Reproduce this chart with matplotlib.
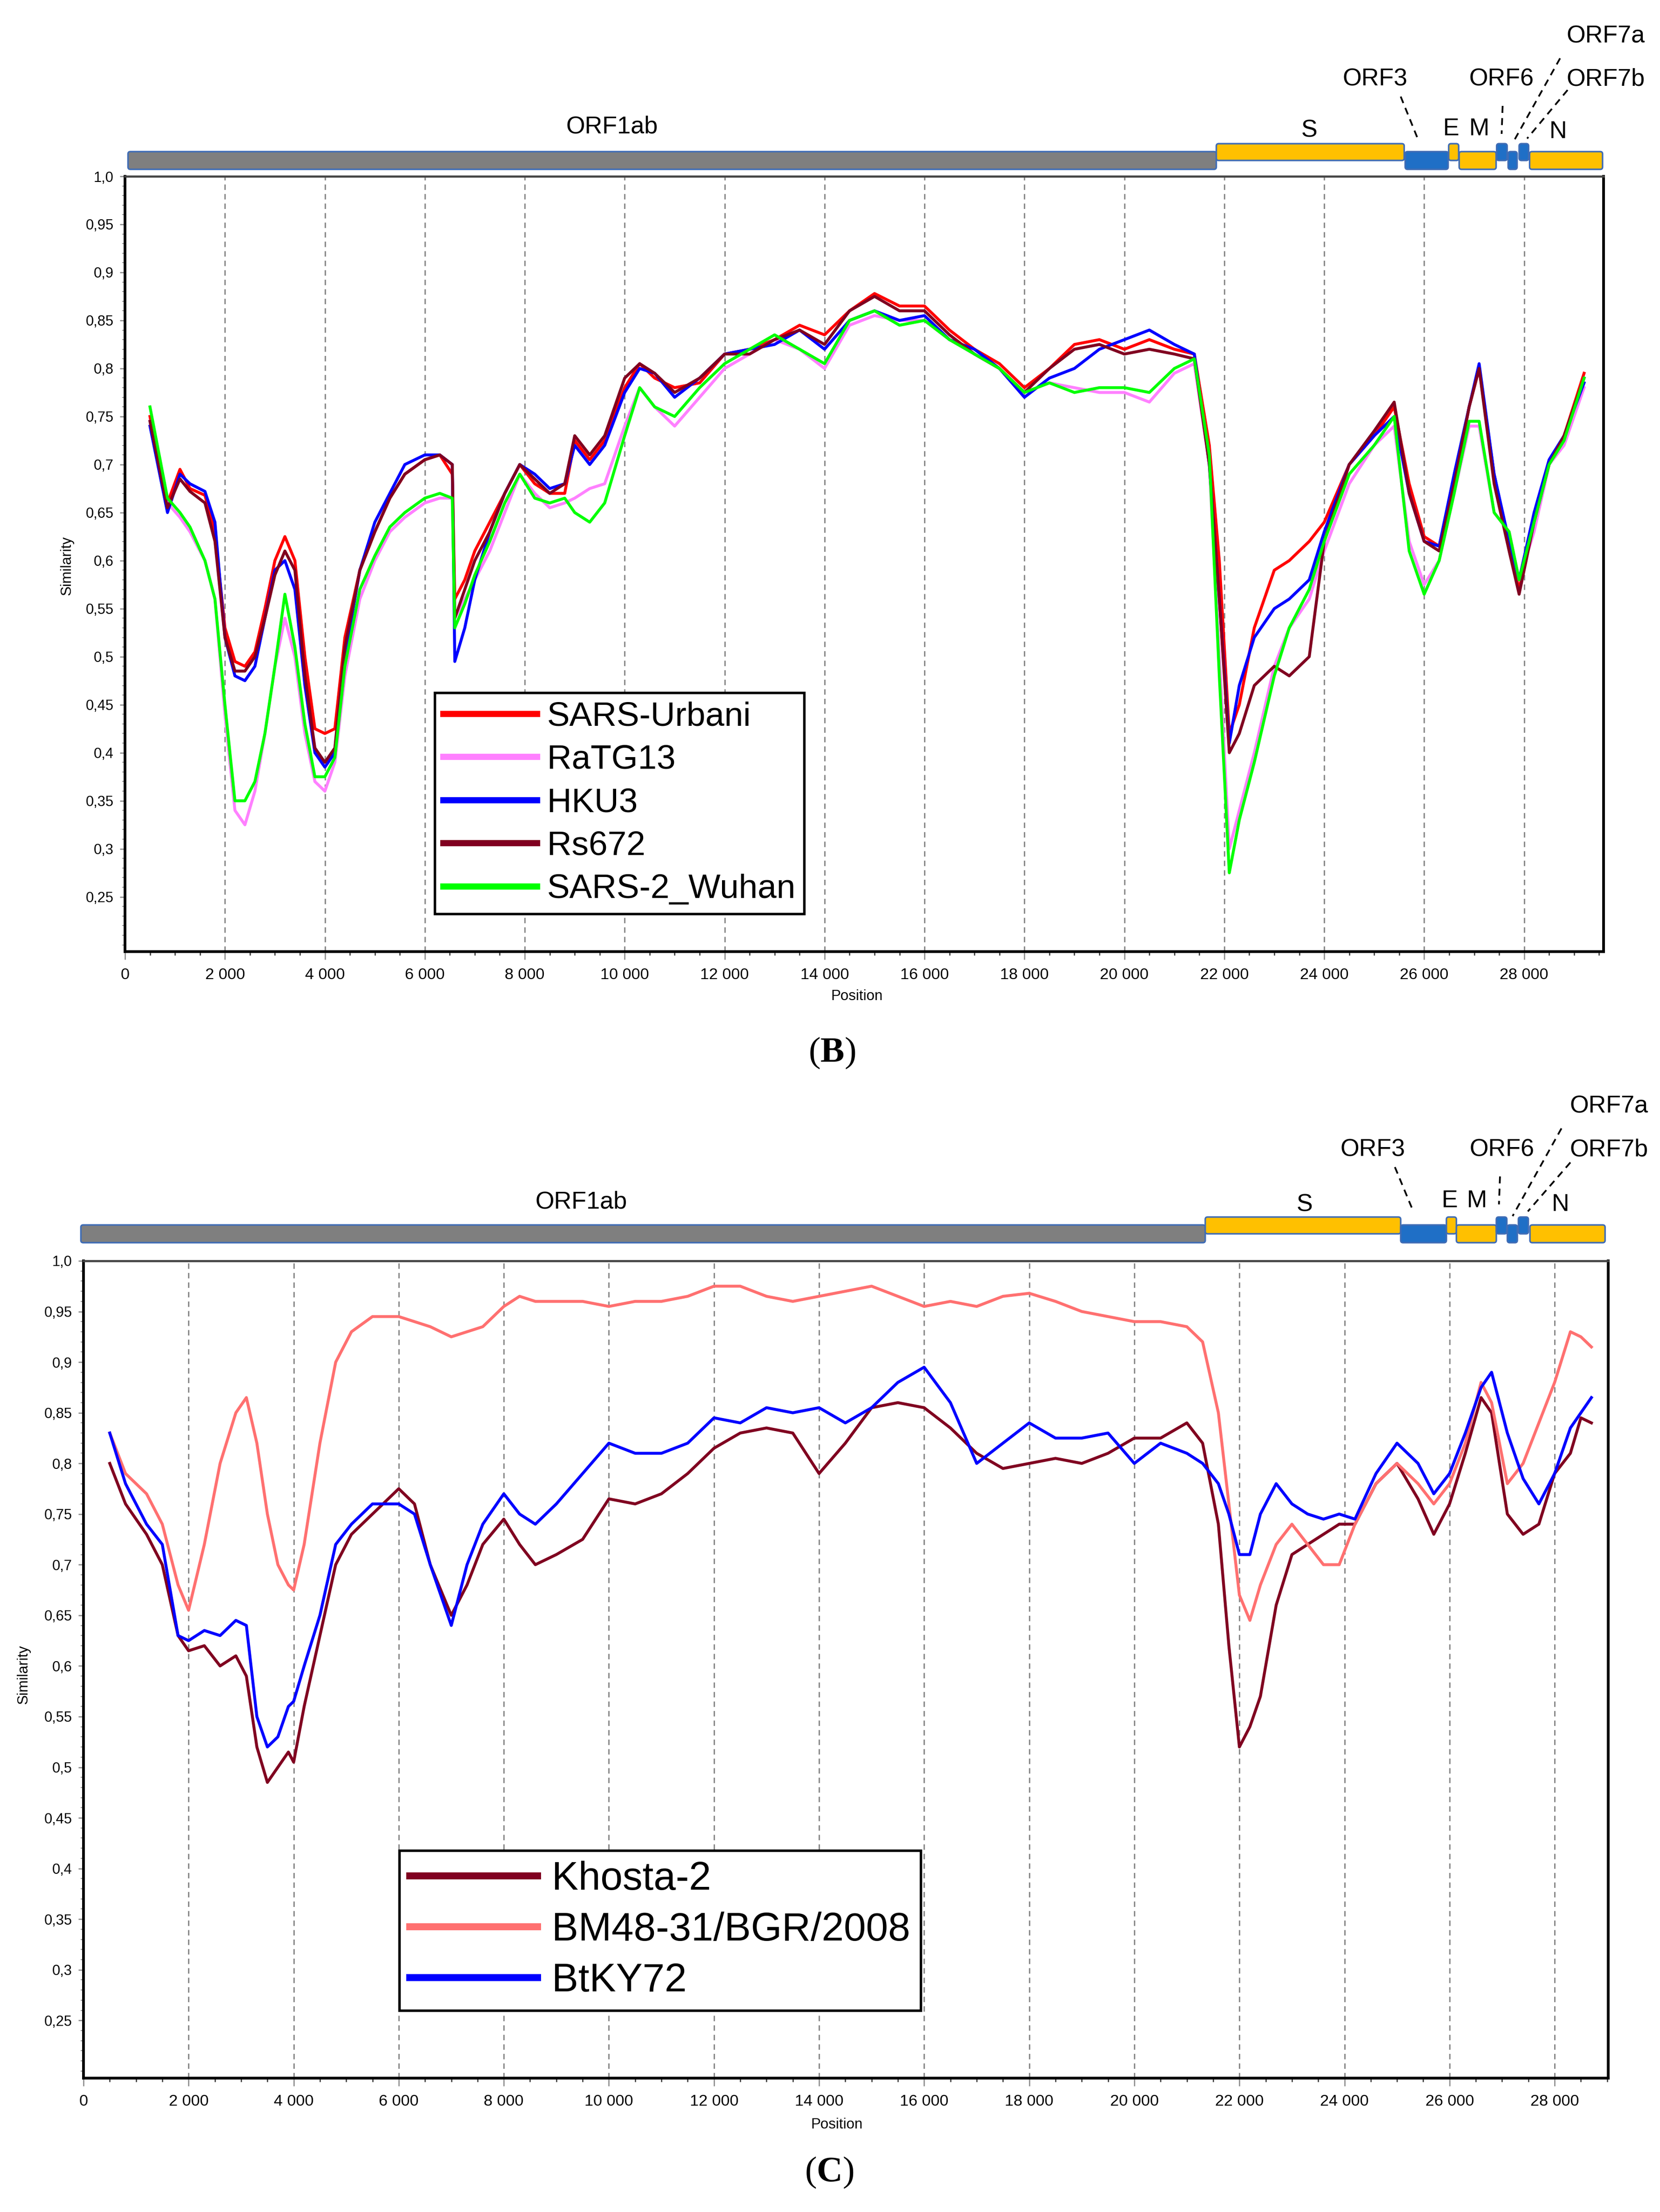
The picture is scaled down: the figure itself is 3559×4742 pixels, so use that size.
import matplotlib.pyplot as plt
from matplotlib.patches import FancyBboxPatch
from matplotlib.lines import Line2D

plt.rcParams['font.family'] = ['Liberation Sans', 'DejaVu Sans']
plt.rcParams['mathtext.fontset'] = 'custom'
plt.rcParams['mathtext.rm'] = 'Liberation Serif'
plt.rcParams['mathtext.bf'] = 'Liberation Serif:bold'

W, H, DPI = 3559, 4742, 300

# ---------------- panel B data ----------------
pos_b = [500, 850, 1100, 1300, 1600, 1800, 2000, 2200, 2400, 2600, 2800, 3000,
         3200, 3400, 3600, 3800, 4000, 4200, 4400, 4700, 5000, 5300, 5600, 6000,
         6300, 6550, 6600, 6800, 7000, 7300, 7600, 7900, 8200, 8500, 8800, 9000,
         9300, 9600, 10000, 10300, 10600, 11000, 11500, 12000, 12500, 13000,
         13500, 14000, 14500, 15000, 15500, 16000, 16500, 17000, 17500, 18000,
         18500, 19000, 19500, 20000, 20500, 21000, 21400, 21700, 21900, 22100,
         22300, 22600, 23000, 23300, 23700, 24000, 24500, 25000, 25400, 25700,
         26000, 26300, 26600, 26900, 27100, 27400, 27700, 27900, 28200, 28500,
         28800, 29200]

sars_urbani = [.750, .660, .695, .675, .668, .630, .530, .495, .490, .505, .550, .600,
               .625, .600, .500, .425, .420, .425, .520, .590, .630, .665, .690, .705,
               .710, .690, .560, .580, .610, .640, .670, .700, .680, .670, .670, .725,
               .705, .725, .780, .805, .790, .780, .785, .815, .820, .830,
               .845, .835, .860, .878, .865, .865, .840, .820, .805, .780,
               .800, .825, .830, .820, .830, .820, .815, .720, .600, .420,
               .450, .530, .590, .600, .620, .640, .700, .730, .760, .680,
               .625, .615, .680, .760, .800, .690, .615, .570, .640, .700,
               .730, .795]

ratg13 = [.745, .660, .645, .630, .600, .560, .440, .340, .325, .360, .420, .490,
          .540, .500, .420, .370, .360, .390, .480, .560, .600, .630, .645, .660,
          .665, .665, .540, .560, .580, .610, .650, .690, .670, .655, .660, .665,
          .675, .680, .740, .780, .760, .740, .770, .800, .815, .830,
          .820, .800, .845, .855, .850, .850, .830, .815, .800, .775,
          .785, .780, .775, .775, .765, .795, .805, .700, .500, .300,
          .340, .400, .490, .530, .560, .610, .680, .720, .740, .620,
          .575, .600, .670, .740, .740, .650, .630, .580, .630, .700,
          .720, .780]

hku3 = [.740, .650, .690, .680, .672, .640, .520, .480, .475, .490, .540, .590,
        .600, .570, .470, .400, .385, .400, .500, .590, .640, .670, .700, .710,
        .710, .700, .495, .530, .580, .630, .670, .700, .690, .675, .680, .720,
        .700, .720, .775, .800, .795, .770, .790, .815, .820, .825,
        .840, .820, .850, .860, .850, .855, .830, .820, .800, .770,
        .790, .800, .820, .830, .840, .825, .815, .700, .560, .410,
        .470, .520, .550, .560, .580, .630, .700, .730, .750, .670,
        .620, .615, .690, .760, .805, .690, .620, .580, .650, .705,
        .730, .785]

rs672 = [.745, .655, .685, .672, .660, .620, .520, .485, .485, .500, .540, .585,
         .610, .590, .480, .405, .390, .405, .510, .590, .630, .665, .690, .705,
         .710, .700, .540, .570, .600, .630, .670, .700, .685, .670, .680, .730,
         .710, .730, .790, .805, .795, .775, .790, .815, .815, .830,
         .840, .825, .860, .875, .860, .860, .835, .815, .800, .775,
         .800, .820, .825, .815, .820, .815, .810, .700, .560, .400,
         .420, .470, .490, .480, .500, .620, .700, .735, .765, .670,
         .620, .610, .680, .760, .800, .680, .610, .565, .640, .700,
         .730, .790]

sars2_wuhan = [.760, .665, .650, .635, .600, .560, .450, .350, .350, .370, .420, .490,
               .565, .510, .430, .375, .375, .395, .490, .570, .605, .635, .650, .665,
               .670, .665, .530, .555, .585, .620, .660, .690, .665, .660, .665, .650,
               .640, .660, .730, .780, .760, .750, .780, .805, .820, .835,
               .820, .805, .850, .860, .845, .850, .830, .815, .800, .775,
               .785, .775, .780, .780, .775, .800, .810, .710, .480, .275,
               .330, .390, .480, .530, .570, .620, .690, .720, .750, .610,
               .565, .600, .670, .745, .745, .650, .630, .580, .640, .700,
               .725, .790]

names_b = ["SARS-Urbani", "RaTG13", "HKU3", "Rs672", "SARS-2_Wuhan"]
series_b = [sars_urbani, ratg13, hku3, rs672, sars2_wuhan]
colors_b = ["#ff0000", "#ff80ff", "#0000ff", "#800020", "#00ff00"]

# ---------------- panel C data ----------------
pos_c = [500, 800, 1200, 1500, 1800, 2000, 2300, 2600, 2900, 3100, 3300, 3500,
         3700, 3900, 4000, 4200, 4500, 4800, 5100, 5500, 6000, 6300, 6600, 7000,
         7300, 7600, 8000, 8300, 8600, 9000, 9500, 10000, 10500, 11000, 11500,
         12000, 12500, 13000, 13500, 14000, 14500, 15000, 15500, 16000, 16500,
         17000, 17500, 18000, 18500, 19000, 19500, 20000, 20500, 21000, 21300,
         21600, 21800, 22000, 22200, 22400, 22700, 23000, 23300, 23600, 23900,
         24200, 24600, 25000, 25400, 25700, 26000, 26300, 26600, 26800, 27100,
         27400, 27700, 28000, 28300, 28500, 28700]

khosta2 = [.800, .760, .730, .700, .630, .615, .620, .600, .610, .590, .520, .485,
           .500, .515, .505, .560, .630, .700, .730, .750, .775, .760, .700, .650,
           .680, .720, .745, .720, .700, .710, .725, .765, .760, .770, .790,
           .815, .830, .835, .830, .790, .820, .855, .860, .855, .835,
           .810, .795, .800, .805, .800, .810, .825, .825, .840, .820,
           .740, .620, .520, .540, .570, .660, .710, .720, .730, .740,
           .740, .780, .800, .765, .730, .760, .810, .865, .850, .750,
           .730, .740, .790, .810, .845, .840]

bm48 = [.830, .790, .770, .740, .680, .655, .720, .800, .850, .865, .820, .750,
        .700, .680, .675, .720, .820, .900, .930, .945, .945, .940, .935, .925,
        .930, .935, .955, .965, .960, .960, .960, .955, .960, .960, .965,
        .975, .975, .965, .960, .965, .970, .975, .965, .955, .960,
        .955, .965, .968, .960, .950, .945, .940, .940, .935, .920,
        .850, .760, .670, .645, .680, .720, .740, .720, .700, .700,
        .740, .780, .800, .780, .760, .780, .820, .880, .860, .780,
        .800, .840, .880, .930, .925, .915]

btky72 = [.830, .780, .740, .720, .630, .625, .635, .630, .645, .640, .550, .520,
          .530, .560, .565, .600, .650, .720, .740, .760, .760, .750, .700, .640,
          .700, .740, .770, .750, .740, .760, .790, .820, .810, .810, .820,
          .845, .840, .855, .850, .855, .840, .855, .880, .895, .860,
          .800, .820, .840, .825, .825, .830, .800, .820, .810, .800,
          .780, .750, .710, .710, .750, .780, .760, .750, .745, .750,
          .745, .790, .820, .800, .770, .790, .830, .875, .890, .830,
          .785, .760, .790, .835, .850, .865]

names_c = ["Khosta-2", "BM48-31/BGR/2008", "BtKY72"]
series_c = [khosta2, bm48, btky72]
colors_c = ["#800020", "#ff7070", "#0000ff"]

# ---------------- axis ticks ----------------
xticks = list(range(0, 30000, 2000))
xtick_labels = [f"{v:,}".replace(",", " ") for v in xticks]
yticks = [0.25, 0.30, 0.35, 0.40, 0.45, 0.50, 0.55, 0.60, 0.65, 0.70, 0.75, 0.80,
          0.85, 0.90, 0.95, 1.00]
ytick_labels = ["0,25", "0,3", "0,35", "0,4", "0,45", "0,5", "0,55", "0,6", "0,65",
                "0,7", "0,75", "0,8", "0,85", "0,9", "0,95", "1,0"]

# ---------------- genome maps ----------------
gene_names = ["ORF1ab", "S", "ORF3", "E", "M", "ORF6", "ORF7a", "ORF7b", "N"]
gene_colors = ["#7f7f7f", "#ffc000", "#1f6fc6", "#ffc000", "#ffc000",
               "#1f6fc6", "#1f6fc6", "#1f6fc6", "#ffc000"]
gene_upper = [0, 1, 0, 1, 0, 1, 0, 1, 0]
gene_start_b = [60, 21840, 25620, 26490, 26700, 27450, 27680, 27900, 28110]
gene_end_b = [21840, 25600, 26480, 26690, 27440, 27660, 27860, 28090, 29570]
gene_start_c = [-50, 21350, 25070, 25940, 26130, 26890, 27100, 27310, 27530]
gene_end_c = [21350, 25070, 25940, 26130, 26890, 27090, 27290, 27500, 28960]


def draw_genes(gax, starts, ends, lift, px_per_bp, labels, leaders):
    lower = (15 + lift, 38)
    upper = (34 + lift, 36)
    for s, e, c, up in zip(starts, ends, gene_colors, gene_upper):
        y0, h = upper if up else lower
        r = 5 / px_per_bp
        box = FancyBboxPatch((s, y0), e - s, h,
                             boxstyle=f"round,pad=0,rounding_size={r}",
                             mutation_aspect=px_per_bp,
                             facecolor=c, edgecolor="#3f6cb5", lw=0.8,
                             clip_on=False)
        gax.add_patch(box)
    for txt, x, y in labels:
        gax.text(x, y + lift, txt, ha="center", va="center", fontsize=12.5,
                 clip_on=False)
    for x0, y0, x1, y1 in leaders:
        gax.plot([x0, x1], [y0 + lift, y1 + lift], color="black", lw=0.9,
                 linestyle=(0, (4, 3)), clip_on=False)


def style_axes(ax, xmax):
    ax.set_xlim(0, xmax)
    ax.set_ylim(0.193, 1.0)
    ax.set_xticks(xticks)
    ax.set_xticklabels(xtick_labels)
    ax.set_xticks(list(range(0, int(xmax), 500)), minor=True)
    ax.set_yticks(yticks)
    ax.set_yticklabels(ytick_labels)
    ax.set_yticks([v / 100 for v in range(20, 101)], minor=True)
    ax.tick_params(axis="x", which="major", length=4, width=0.6,
                   color="#888888", labelsize=8.2, pad=4.5)
    ax.tick_params(axis="x", which="minor", length=2, width=0.6, color="#333333")
    ax.tick_params(axis="y", which="major", length=2.6, width=0.6,
                   color="#888888", labelsize=7.4, pad=3.2)
    ax.tick_params(axis="y", which="minor", length=1.5, width=0.5, color="#999999")
    ax.xaxis.grid(True, which="major", color="#888888", lw=0.7,
                  linestyle=(0, (4, 3)))
    for side in ["left", "bottom", "right"]:
        ax.spines[side].set_linewidth(1.4)
        ax.spines[side].set_color("black")
    ax.spines["top"].set_linewidth(1.1)
    ax.spines["top"].set_color("#444444")


fig = plt.figure(figsize=(W / DPI, H / DPI), dpi=DPI)

# ---------- panel B ----------
ax_b = fig.add_axes([268 / W, 1 - 2040 / H, 3170 / W, 1662 / H])
xmax_b = 29590
style_axes(ax_b, xmax_b)
for vals, name, col in zip(series_b, names_b, colors_b):
    ax_b.plot(pos_b, vals, color=col, lw=1.5, label=name)
ax_b.text(0.495, -96 / 1662, "Position", transform=ax_b.transAxes,
          ha="center", va="center", fontsize=7.5)
ax_b.text(-0.0391, 0.498, "Similarity", transform=ax_b.transAxes, rotation=90,
          ha="center", va="center", fontsize=7.5)
handles_b = [Line2D([], [], color=c, lw=3.2) for c in colors_b]
leg_b = ax_b.legend(handles_b, names_b, loc="upper left",
                    bbox_to_anchor=(0.2095, 0.3339), borderaxespad=0,
                    fontsize=17.5, handlelength=2.75, handletextpad=0.3,
                    labelspacing=0.35, borderpad=0.25, fancybox=False,
                    edgecolor="black", framealpha=1)
leg_b.get_frame().set_linewidth(1.3)

gax_b = fig.add_axes([268 / W, 1 - 378 / H, 3170 / W, 378 / H])
gax_b.set_xlim(0, xmax_b)
gax_b.set_ylim(0, 378)
gax_b.axis("off")
labels_b = [("ORF1ab", 9750, 106), ("S", 23700, 98), ("E", 26540, 101),
            ("M", 27100, 101), ("N", 28680, 96), ("ORF3", 25020, 208),
            ("ORF6", 27550, 208), ("ORF7b", 29630, 208), ("ORF7a", 29630, 300)]
leaders_b = [(25530, 171, 25870, 81), (27570, 151, 27550, 91),
             (28720, 253, 27770, 71), (28870, 185, 28060, 81)]
draw_genes(gax_b, gene_start_b, gene_end_b, 0, 3170 / xmax_b, labels_b, leaders_b)

fig.text(1784 / W, 1 - 2257 / H, r"($\mathbf{B}$)", ha="center", va="center",
         fontsize=18.5, family="Liberation Serif")

# ---------- panel C ----------
ax_c = fig.add_axes([179 / W, 1 - 4455 / H, 3269 / W, 1752 / H])
xmax_c = 29020
style_axes(ax_c, xmax_c)
for vals, name, col in zip(series_c, names_c, colors_c):
    ax_c.plot(pos_c, vals, color=col, lw=1.5, label=name)
ax_c.text(0.494, -100 / 1752, "Position", transform=ax_c.transAxes,
          ha="center", va="center", fontsize=7.5)
ax_c.text(-0.0392, 0.494, "Similarity", transform=ax_c.transAxes, rotation=90,
          ha="center", va="center", fontsize=7.5)
handles_c = [Line2D([], [], color=c, lw=3.6) for c in colors_c]
leg_c = ax_c.legend(handles_c, names_c, loc="upper left",
                    bbox_to_anchor=(0.2071, 0.2785), borderaxespad=0,
                    fontsize=20.5, handlelength=3.2, handletextpad=0.37,
                    labelspacing=0.34, borderpad=0.26, fancybox=False,
                    edgecolor="black", framealpha=1)
leg_c.get_frame().set_linewidth(1.3)

gax_c = fig.add_axes([179 / W, 1 - 2703 / H, 3269 / W, 403 / H])
gax_c.set_xlim(0, xmax_c)
gax_c.set_ylim(0, 403)
gax_c.axis("off")
labels_c = [("ORF1ab", 9470, 102), ("S", 23240, 96), ("E", 26000, 104),
            ("M", 26520, 104), ("N", 28110, 96), ("ORF3", 24540, 214),
            ("ORF6", 27000, 214), ("ORF7b", 29030, 214), ("ORF7a", 29030, 307)]
leaders_c = [(24960, 177, 25310, 82), (26960, 157, 26940, 97),
             (28130, 260, 27200, 72), (28300, 187, 27490, 82)]
draw_genes(gax_c, gene_start_c, gene_end_c, 24, 3269 / xmax_c, labels_c, leaders_c)

fig.text(1778 / W, 1 - 4657 / H, r"($\mathbf{C}$)", ha="center", va="center",
         fontsize=18.5, family="Liberation Serif")

fig.savefig("out.png", dpi=DPI)
